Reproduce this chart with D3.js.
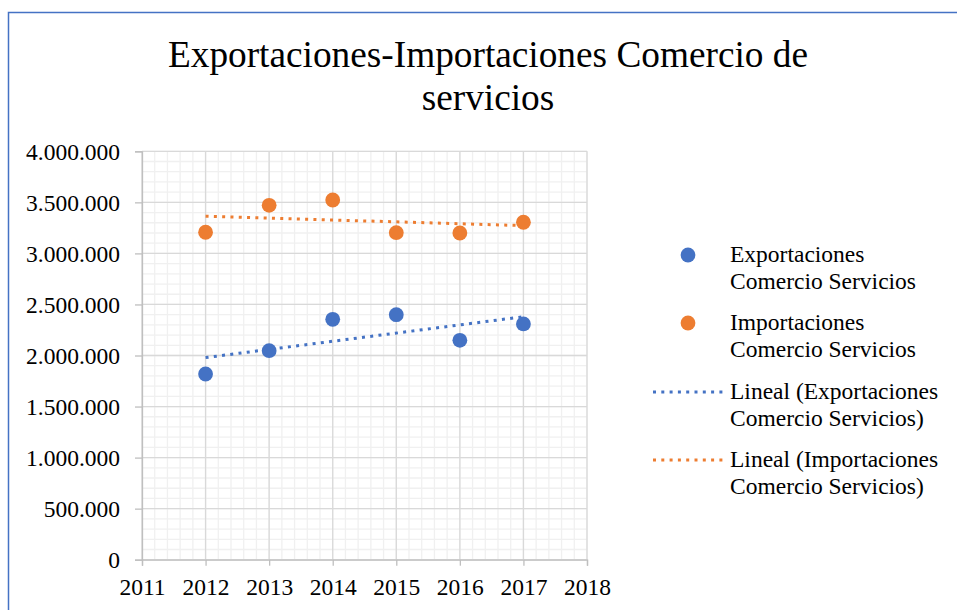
<!DOCTYPE html>
<html>
<head>
<meta charset="utf-8">
<script src="https://cdn.jsdelivr.net/npm/d3@7"></script>
<style>
  body { margin: 0; background: #fff; }
  svg text { font-family: "Liberation Serif", "Times New Roman", serif; fill: #000; }
</style>
</head>
<body>
<div id="chart"></div>
<script>
// Chart data
var years = [2012, 2013, 2014, 2015, 2016, 2017];
var exportaciones = [1819000, 2047000, 2354000, 2400000, 2149000, 2309000];
var importaciones = [3207000, 3471000, 3523000, 3203000, 3200000, 3305000];
var seriesNames = ["Exportaciones Comercio Servicios", "Importaciones Comercio Servicios"];
var titleLines = ["Exportaciones-Importaciones Comercio de", "servicios"];
var xTicks = [2011, 2012, 2013, 2014, 2015, 2016, 2017, 2018];
var yTicks = [0, 500000, 1000000, 1500000, 2000000, 2500000, 3000000, 3500000, 4000000];

const BLUE = "#4472C4";
const ORANGE = "#ED7D31";
const SERIF = '"Liberation Serif", "Times New Roman", serif';

var width = 957, height = 610;
var plot = { left: 142, right: 587, top: 151.3, bottom: 559.7 };

var svg = d3.select("#chart").append("svg")
  .attr("width", width)
  .attr("height", height);

// Outer frame (only top and left visible)
svg.append("path")
  .attr("d", "M8.5,640 L8.5,12.5 L960,12.5")
  .attr("fill", "none")
  .attr("stroke", BLUE)
  .attr("stroke-width", 1.5);

// Title
svg.append("text")
  .attr("text-anchor", "middle")
  .style("font-size", "37.3px")
  .selectAll("tspan")
  .data(titleLines)
  .enter()
  .append("tspan")
  .attr("x", 488)
  .attr("y", (d, i) => 67 + i * 43)
  .text((d) => d);

var x = d3.scaleLinear().domain([2011, 2018]).range([plot.left, plot.right]);
var y = d3.scaleLinear().domain([0, 4000000]).range([plot.bottom, plot.top]);

// Number format with dots for thousands
var locale = d3.formatLocale({ decimal: ",", thousands: ".", grouping: [3], currency: ["", ""] });
var fmt = locale.format(",d");

// Minor gridlines
var xMinor = d3.range(2011, 2018.001, 0.2);
var yMinor = d3.range(0, 4000001, 100000);
svg.append("g").selectAll("line").data(xMinor).enter().append("line")
  .attr("x1", (d) => x(d)).attr("x2", (d) => x(d))
  .attr("y1", plot.top).attr("y2", plot.bottom)
  .attr("stroke", "#f0f0f0").attr("stroke-width", 1.3);
svg.append("g").selectAll("line").data(yMinor).enter().append("line")
  .attr("x1", plot.left).attr("x2", plot.right)
  .attr("y1", (d) => y(d)).attr("y2", (d) => y(d))
  .attr("stroke", "#f0f0f0").attr("stroke-width", 1.3);

// Major gridlines
svg.append("g").selectAll("line").data(xTicks).enter().append("line")
  .attr("x1", (d) => x(d)).attr("x2", (d) => x(d))
  .attr("y1", plot.top).attr("y2", plot.bottom)
  .attr("stroke", "#d9d9d9").attr("stroke-width", 1.3);
svg.append("g").selectAll("line").data(yTicks).enter().append("line")
  .attr("x1", plot.left).attr("x2", plot.right)
  .attr("y1", (d) => y(d)).attr("y2", (d) => y(d))
  .attr("stroke", "#d9d9d9").attr("stroke-width", 1.3);

// Axes
var xAxis = svg.append("g")
  .attr("transform", `translate(0,${plot.bottom})`)
  .call(d3.axisBottom(x).tickValues(xTicks).tickFormat(d3.format("d")).tickSize(6).tickPadding(12));
var yAxis = svg.append("g")
  .attr("transform", `translate(${plot.left},0)`)
  .call(d3.axisLeft(y).tickValues(yTicks).tickFormat(fmt).tickSize(7).tickPadding(15));

[xAxis, yAxis].forEach(function (ax) {
  ax.attr("font-family", null).attr("font-size", null);
  ax.select(".domain").attr("stroke", "#bfbfbf").attr("stroke-width", 1.3);
  ax.selectAll(".tick line").attr("stroke", "#bfbfbf").attr("stroke-width", 1.3);
  ax.selectAll(".tick text")
    .style("font-family", SERIF)
    .style("font-size", "23.5px")
    .attr("fill", "#000");
});
xAxis.selectAll(".tick text").attr("dy", "0.75em");
yAxis.selectAll(".tick text").attr("dy", "0.35em");

// Linear regression for trend lines
function trend(xs, ys) {
  var mx = d3.mean(xs), my = d3.mean(ys);
  var sxy = d3.sum(xs, (d, i) => (d - mx) * (ys[i] - my));
  var sxx = d3.sum(xs, (d) => (d - mx) * (d - mx));
  var b = sxy / sxx;
  var a = my - b * mx;
  var x0 = d3.min(xs), x1 = d3.max(xs);
  return [[x0, a + b * x0], [x1, a + b * x1]];
}

var line = d3.line().x((d) => x(d[0])).y((d) => y(d[1]));
var series = [
  { name: seriesNames[0], values: exportaciones, color: BLUE },
  { name: seriesNames[1], values: importaciones, color: ORANGE },
];

series.forEach(function (s) {
  svg.append("path")
    .attr("d", line(trend(years, s.values)))
    .attr("fill", "none")
    .attr("stroke", s.color)
    .attr("stroke-width", 3)
    .attr("stroke-dasharray", "3 5.3");
});

series.forEach(function (s) {
  svg.append("g").selectAll("circle")
    .data(s.values)
    .enter()
    .append("circle")
    .attr("cx", (d, i) => x(years[i]))
    .attr("cy", (d) => y(d))
    .attr("r", 7.4)
    .attr("fill", s.color);
});

// Legend
var legendItems = [
  { type: "marker", color: BLUE, lines: ["Exportaciones", "Comercio Servicios"], y: 255 },
  { type: "marker", color: ORANGE, lines: ["Importaciones", "Comercio Servicios"], y: 323 },
  { type: "line", color: BLUE, lines: ["Lineal (Exportaciones", "Comercio Servicios)"], y: 392 },
  { type: "line", color: ORANGE, lines: ["Lineal (Importaciones", "Comercio Servicios)"], y: 460 },
];

var legend = svg.append("g");
legendItems.forEach(function (item) {
  var g = legend.append("g").attr("transform", `translate(0,${item.y})`);
  if (item.type === "marker") {
    g.append("circle").attr("cx", 688).attr("cy", 0).attr("r", 7.4).attr("fill", item.color);
  } else {
    g.append("line")
      .attr("x1", 653).attr("x2", 723).attr("y1", 0).attr("y2", 0)
      .attr("stroke", item.color).attr("stroke-width", 3)
      .attr("stroke-dasharray", "3 5.3");
  }
  g.append("text")
    .style("font-size", "23.5px")
    .selectAll("tspan")
    .data(item.lines)
    .enter()
    .append("tspan")
    .attr("x", 730)
    .attr("y", (d, i) => 6.5 + i * 27)
    .text((d) => d);
});
</script>
</body>
</html>
